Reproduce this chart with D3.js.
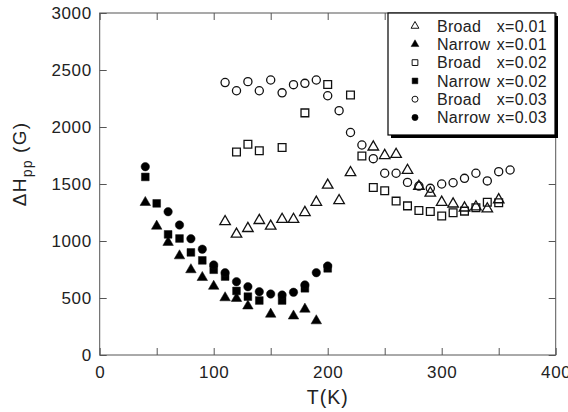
<!DOCTYPE html>
<html lang="en">
<head>
<meta charset="UTF-8" />
<title>Linewidth vs temperature</title>
<script src="https://cdn.jsdelivr.net/npm/d3@7"></script>
<style>
  body { margin: 0; background: #fff; }
  svg { font-family: "Liberation Sans", Arial, sans-serif; }
  .axis path { display: none; }
  .axis line { stroke: #555; }
  .axis text { font-size: 17px; letter-spacing: 0.6px; fill: #222; }
</style>
</head>
<body>
<script>
// temperatures (K) and linewidths (G)
var broad01T = [110, 120, 130, 140, 150, 160, 170, 180, 190, 200, 210, 220, 240, 250, 260, 270, 280, 290, 300, 310, 320, 330, 340, 350];
var broad01V = [1170, 1060, 1110, 1180, 1130, 1190, 1190, 1250, 1340, 1490, 1355, 1600, 1825, 1750, 1760, 1620, 1480, 1420, 1340, 1325, 1290, 1300, 1282, 1362];

var narrow01T = [40, 50, 60, 70, 80, 90, 100, 110, 120, 130, 150, 170, 180, 190];
var narrow01V = [1338, 1130, 988, 870, 748, 680, 603, 502, 496, 430, 358, 342, 402, 300];

var broad02T = [120, 130, 140, 160, 180, 200, 220, 230, 240, 250, 260, 270, 280, 290, 300, 310, 320, 330, 340, 350];
var broad02V = [1780, 1848, 1792, 1820, 2124, 2372, 2280, 1746, 1470, 1440, 1350, 1308, 1268, 1258, 1220, 1248, 1262, 1292, 1340, 1336];

var narrow02T = [40, 50, 60, 70, 80, 90, 100, 110, 120, 130, 140, 160, 180, 200];
var narrow02V = [1562, 1330, 1058, 1022, 900, 830, 748, 688, 562, 512, 478, 478, 585, 760];

var broad03T = [110, 120, 130, 140, 150, 160, 170, 180, 190, 200, 210, 220, 230, 240, 250, 260, 270, 280, 290, 300, 310, 320, 330, 340, 350, 360];
var broad03V = [2390, 2318, 2398, 2318, 2412, 2300, 2371, 2383, 2412, 2274, 2143, 1952, 1842, 1722, 1594, 1594, 1514, 1482, 1462, 1500, 1511, 1550, 1594, 1527, 1608, 1623];

var narrow03T = [40, 60, 70, 80, 90, 100, 110, 120, 130, 140, 150, 160, 170, 180, 190, 200];
var narrow03V = [1652, 1257, 1140, 1020, 928, 790, 722, 643, 599, 555, 535, 526, 550, 615, 722, 781];

var seriesNames = ["Broad", "Narrow", "Broad", "Narrow", "Broad", "Narrow"];
var seriesX = ["x=0.01", "x=0.01", "x=0.02", "x=0.02", "x=0.03", "x=0.03"];
var xTicks = [0, 50, 100, 150, 200, 250, 300, 350, 400];
var yTicks = [0, 500, 1000, 1500, 2000, 2500, 3000];

var series = [
  { t: broad01T, v: broad01V, shape: d3.symbolTriangle, filled: false, size: 48 },
  { t: narrow01T, v: narrow01V, shape: d3.symbolTriangle, filled: true, size: 48 },
  { t: broad02T, v: broad02V, shape: d3.symbolSquare, filled: false, size: 60 },
  { t: narrow02T, v: narrow02V, shape: d3.symbolSquare, filled: true, size: 60 },
  { t: broad03T, v: broad03V, shape: d3.symbolCircle, filled: false, size: 52 },
  { t: narrow03T, v: narrow03V, shape: d3.symbolCircle, filled: true, size: 56 }
];

var W = 568, H = 412;
var margin = { top: 13, right: 12.3, bottom: 57, left: 99.7 };
var w = W - margin.left - margin.right,
    h = H - margin.top - margin.bottom;

var svg = d3.select("body").append("svg")
  .attr("width", W)
  .attr("height", H);

var g = svg.append("g")
  .attr("transform", "translate(" + margin.left + "," + margin.top + ")");

var xScale = d3.scaleLinear().domain([0, 400]).range([0, w]);
var yScale = d3.scaleLinear().domain([0, 3000]).range([h, 0]);

// frame
g.append("rect")
  .attr("width", w)
  .attr("height", h)
  .attr("fill", "none")
  .attr("stroke", "#555")
  .attr("stroke-width", 1);

// axes, ticks point inward on all four sides
g.append("g")
  .attr("class", "axis")
  .attr("transform", "translate(0," + h + ")")
  .call(d3.axisBottom(xScale).tickValues(xTicks).tickSize(-7).tickPadding(11)
    .tickFormat(function(d) { return d % 100 === 0 ? d : ""; }));

g.append("g")
  .attr("class", "axis")
  .call(d3.axisTop(xScale).tickValues(xTicks).tickSize(-7).tickFormat(""));

g.append("g")
  .attr("class", "axis")
  .call(d3.axisLeft(yScale).tickValues(yTicks).tickSize(-7).tickPadding(8)
    .tickFormat(d3.format("d")));

g.append("g")
  .attr("class", "axis")
  .attr("transform", "translate(" + w + ",0)")
  .call(d3.axisRight(yScale).tickValues(yTicks).tickSize(-7).tickFormat(""));

// axis titles
svg.append("text")
  .attr("x", margin.left + w / 2)
  .attr("y", 404)
  .attr("text-anchor", "middle")
  .attr("font-size", 19.5)
  .attr("letter-spacing", 1)
  .attr("fill", "#222")
  .text("T(K)");

var yTitle = svg.append("text")
  .attr("transform", "translate(25.5,164) rotate(-90)")
  .attr("text-anchor", "middle")
  .attr("font-size", 19)
  .attr("letter-spacing", 1.2)
  .attr("fill", "#222");
yTitle.append("tspan").text("\u0394H");
yTitle.append("tspan").attr("font-size", 14).attr("dy", 6).text("pp");
yTitle.append("tspan").attr("dy", -6).text(" (G)");

// points
series.forEach(function(s) {
  var sym = d3.symbol().type(s.shape).size(s.size);
  g.append("g")
    .selectAll("path")
    .data(s.t.map(function(t, i) { return [t, s.v[i]]; }))
    .join("path")
    .attr("transform", function(d) {
      return "translate(" + xScale(d[0]) + "," + yScale(d[1]) + ")";
    })
    .attr("d", sym)
    .attr("fill", s.filled ? "#000" : "none")
    .attr("stroke", "#111")
    .attr("stroke-width", s.filled ? 0.5 : 1.3);
});

// legend with drop shadow
var lg = svg.append("g").attr("transform", "translate(388,13)");
var lw = 167, lh = 122;
lg.append("rect")
  .attr("x", 3).attr("y", 3)
  .attr("width", lw).attr("height", lh)
  .attr("fill", "#000");
lg.append("rect")
  .attr("width", lw).attr("height", lh)
  .attr("fill", "#fff")
  .attr("stroke", "#000")
  .attr("stroke-width", 1.2);

series.forEach(function(s, i) {
  var ry = 13 + i * 18.3;
  lg.append("path")
    .attr("transform", "translate(27," + ry + ")")
    .attr("d", d3.symbol().type(s.shape).size(s.size * 0.55))
    .attr("fill", s.filled ? "#000" : "none")
    .attr("stroke", "#111")
    .attr("stroke-width", s.filled ? 0.5 : 1);
  lg.append("text")
    .attr("x", 49)
    .attr("y", ry)
    .attr("dy", "0.36em")
    .attr("font-size", 16)
    .attr("letter-spacing", 0.3)
    .attr("fill", "#222")
    .text(seriesNames[i]);
  lg.append("text")
    .attr("x", 159)
    .attr("y", ry)
    .attr("dy", "0.36em")
    .attr("text-anchor", "end")
    .attr("font-size", 16)
    .attr("letter-spacing", 0.3)
    .attr("fill", "#222")
    .text(seriesX[i]);
});
</script>
</body>
</html>
